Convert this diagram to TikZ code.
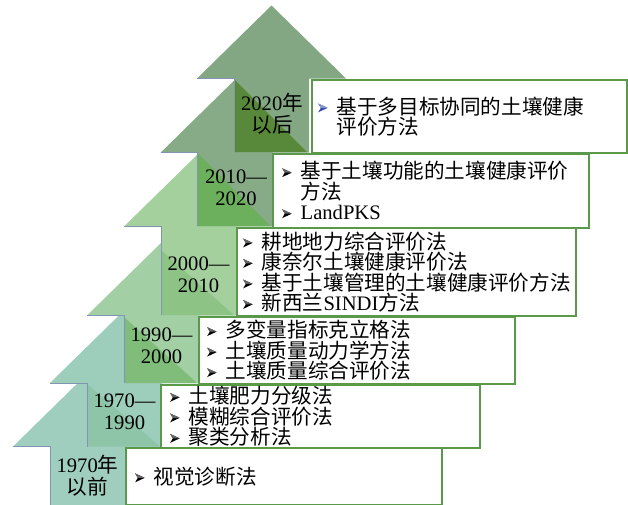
\documentclass[tikz,border=0pt]{standalone}
\usepackage{fontspec}
\setmainfont{Liberation Serif}
\newfontfamily\cjkfont{Noto Sans CJK SC}
\newcommand\zhtxt[1]{{\cjkfont #1}}
\newlength\bwid
\setlength\bwid{18.5pt}
\definecolor{aone}{RGB}{159,206,191}
\definecolor{done}{RGB}{156,204,188}
\definecolor{atwo}{RGB}{157,205,187}
\definecolor{dtwo}{RGB}{142,197,168}
\definecolor{athree}{RGB}{162,207,163}
\definecolor{dthree}{RGB}{128,189,122}
\definecolor{afour}{RGB}{164,208,157}
\definecolor{dfour}{RGB}{141,196,133}
\definecolor{afive}{RGB}{135,170,135}
\definecolor{dfive}{RGB}{108,176,94}
\definecolor{asix}{RGB}{131,167,131}
\definecolor{dsix}{RGB}{88,137,58}
\definecolor{outlc}{RGB}{128,148,180}
\definecolor{boxc}{RGB}{91,153,74}
\definecolor{bluebul}{RGB}{52,80,168}
\newcommand\bulmark[1][black]{\makebox[\bwid][l]{\tikz[baseline=0pt,x=1pt,y=1pt]{\fill[#1] (0,1.8) -- (9.5,6.2) -- (0,10.6) -- (2.6,6.2) -- cycle; \fill[#1!60!white] (0,10.6) -- (9.5,6.2) -- (2.6,6.2) -- cycle;}}}
\newcommand\drawlevel[6]{%
  \fill[#5] (#1-37,#2) -- (#1+37.5,#2-73) -- (#1+112,#2) -- (#1+75,#2) -- (#1+75,#3) -- (#1,#3) -- (#1,#2) -- cycle;
  \fill[#6] (#1,#4) -- (#1,#3) -- (#1+73,#3) -- cycle;
  \draw[outl] (#1-37,#2) -- (#1,#2) -- (#1,#3);
}
\begin{document}
\begin{tikzpicture}[x=1pt,y=-1pt,
  outl/.style={draw=outlc,line width=0.7pt},
  tbox/.style={draw=boxc,line width=2pt,fill=white,rectangle,inner sep=0pt,anchor=north west},
  txt/.style={anchor=west,inner sep=0pt,align=left,font=\fontsize{20.6}{20.5}\selectfont},
  lab/.style={inner sep=0pt,align=center,font=\fontsize{20.6}{22}\selectfont}]
\useasboundingbox (0,0) rectangle (628,504);
\clip (0,0) rectangle (628,504);
% level 1
\drawlevel{50}{446.5}{530}{530}{aone}{done}
\node[tbox,minimum width=316pt,minimum height=56.5pt] (b1) at (125,447) {};
\node[txt] (t1) at ([xshift=10pt]b1.west) {\bulmark\zhtxt{视觉诊断法}};
\node[lab] (l1) at (87.5,476) {1970\zhtxt{年}\\\zhtxt{以前}};
% level 2
\drawlevel{87}{383}{446.5}{384}{atwo}{dtwo}
\node[tbox,minimum width=319pt,minimum height=63.5pt] (b2) at (160,383.5) {};
\node[txt] (t2) at ([xshift=10pt]b2.west) {\bulmark\zhtxt{土壤肥力分级法}\\\bulmark\zhtxt{模糊综合评价法}\\\bulmark\zhtxt{聚类分析法}};
\node[lab] (l2) at (124.5,412) {1970—\\1990};
% level 3
\drawlevel{124}{315.5}{383}{317}{athree}{dthree}
\node[tbox,minimum width=316pt,minimum height=67pt] (b3) at (198,316) {};
\node[txt] (t3) at ([xshift=9pt]b3.west) {\bulmark\zhtxt{多变量指标克立格法}\\\bulmark\zhtxt{土壤质量动力学方法}\\\bulmark\zhtxt{土壤质量综合评价法}};
\node[lab] (l3) at (161.5,346) {1990—\\2000};
% level 4
\drawlevel{161}{226.5}{315}{250}{afour}{dfour}
\node[tbox,minimum width=339pt,minimum height=88pt] (b4) at (236,227) {};
\node[txt] (t4) at ([xshift=7pt]b4.west) {\bulmark\zhtxt{耕地地力综合评价法}\\\bulmark\zhtxt{康奈尔土壤健康评价法}\\\bulmark\zhtxt{基于土壤管理的土壤健康评价方法}\\\bulmark\zhtxt{新西兰}SINDI\zhtxt{方法}};
\node[lab] (l4) at (198.5,275) {2000—\\2010};
% level 5
\drawlevel{197.5}{152.7}{226}{153}{afive}{dfive}
\node[tbox,minimum width=316pt,minimum height=73.5pt] (b5) at (272,153) {};
\node[txt] (t5) at ([xshift=10pt]b5.west) {\bulmark\zhtxt{基于土壤功能的土壤健康评价}\\\hspace*{\bwid}\zhtxt{方法}\\\bulmark LandPKS};
\node[lab] (l5) at (236,187.5) {2010—\\2020};
% level 6
\drawlevel{234}{78.5}{152}{79}{asix}{dsix}
\node[tbox,minimum width=315pt,minimum height=73pt] (b6) at (311,79) {};
\node[txt] (t6) at ([xshift=7pt]b6.west) {\bulmark[bluebul]\zhtxt{基于多目标协同的土壤健康}\\\hspace*{\bwid}\zhtxt{评价方法}};
\node[lab] (l6) at (272,114) {2020\zhtxt{年}\\\zhtxt{以后}};
\end{tikzpicture}
\end{document}
